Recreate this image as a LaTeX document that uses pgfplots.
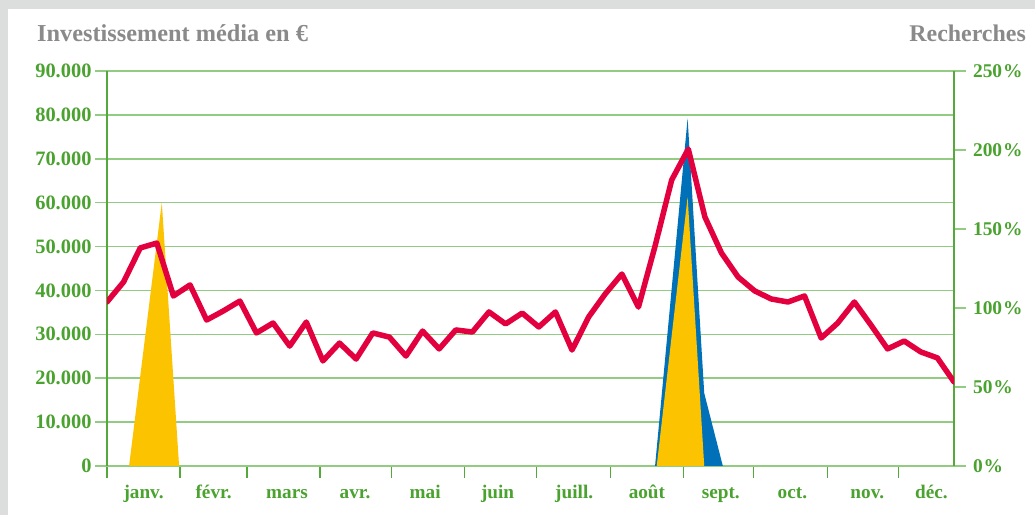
\documentclass[border=0pt]{standalone}
\usepackage{pgfplots}
\pgfplotsset{compat=1.18}
\usepackage{fontspec}
\setmainfont{Liberation Serif}
\definecolor{bggray}{HTML}{DCDEDD}
\definecolor{gridgreen}{HTML}{92CC82}
\definecolor{axisgreen}{HTML}{55A83A}
\definecolor{labgreen}{HTML}{4AA22F}
\definecolor{titlegray}{HTML}{8A8A8A}
\definecolor{redline}{HTML}{E3003F}
\definecolor{yellowarea}{HTML}{FCC300}
\definecolor{bluearea}{HTML}{0071B8}
\begin{document}
\begin{tikzpicture}[x=1bp,y=1bp]
\fill[bggray] (0,0) rectangle (1035,515);
\fill[white] (8,0) rectangle (1035,506);
\node[anchor=base west, font=\bfseries\fontsize{24.4}{28}\selectfont, text=titlegray, inner sep=0pt] at (37,473) {Investissement média en €};
\node[anchor=base east, font=\bfseries\fontsize{24}{28}\selectfont, text=titlegray, inner sep=0pt] at (1026,473) {Recherches};
\begin{axis}[
  at={(107bp,49bp)}, anchor=south west,
  scale only axis, width=847bp, height=395bp,
  xmin=0, xmax=51, ymin=0, ymax=90000,
  axis lines*=left,
  x axis line style={draw=gridgreen, line width=1.5bp},
  y axis line style={draw=axisgreen, line width=1.2bp},
  ytick={0,10000,20000,30000,40000,50000,60000,70000,80000,90000},
  yticklabels={0,10.000,20.000,30.000,40.000,50.000,60.000,70.000,80.000,90.000},
  scaled y ticks=false,
  ymajorgrids, grid style={gridgreen, line width=1.5bp},
  tick align=outside, major tick length=12bp,
  ytick style={draw=gridgreen, line width=1.5bp},
  xtick={0,4.40,8.43,12.83,17.11,21.51,25.84,30.30,34.70,38.92,43.37,47.65},
  xticklabels={},
  xtick style={draw=axisgreen, line width=1.2bp},
  extra x ticks={2.2,6.42,10.84,14.94,19.16,23.52,28.13,32.51,36.96,41.27,45.78,49.64},
  extra x tick labels={janv.,févr.,mars,avr.,mai,juin,juill.,août,sept.,oct.,nov.,déc.},
  extra x tick style={major tick length=0pt, xtick style={draw=none},
    xticklabel style={anchor=base, yshift=-32.5bp, font=\bfseries\fontsize{19.3}{22}\selectfont}},
  tick label style={font=\bfseries\fontsize{20.5}{23}\selectfont, text=labgreen},
]
\addplot[draw=none, fill=bluearea] coordinates {(33.0,0) (34.96,79200) (35.96,16600) (37.08,0)} -- cycle;
\addplot[draw=none, fill=yellowarea] coordinates {(33.1,0) (34.96,61300) (35.96,0)} -- cycle;
\addplot[draw=none, fill=yellowarea] coordinates {(1.33,0) (3.3,60000) (4.34,0)} -- cycle;
\end{axis}
\begin{axis}[
  at={(107bp,49bp)}, anchor=south west,
  scale only axis, width=847bp, height=395bp,
  xmin=0, xmax=51, ymin=0, ymax=250,
  axis y line*=right, axis x line=none,
  y axis line style={draw=axisgreen, line width=1.2bp},
  ytick={0,50,100,150,200,250},
  yticklabels={0\kern1bp\%,50\kern1bp\%,100\kern1bp\%,150\kern1bp\%,200\kern1bp\%,250\kern1bp\%},
  tick align=outside, major tick length=12bp,
  ytick style={draw=gridgreen, line width=1.5bp},
  yticklabel style={xshift=3.5bp},
  tick label style={font=\bfseries\fontsize{19.5}{22}\selectfont, text=labgreen},
]
\addplot[redline, line width=5.5bp, line join=round, line cap=round] coordinates {
(0,103.8) (1,116.5) (2,138.0) (3,141.1) (4,107.6) (5,114.6) (6,92.4) (7,98.1)
(8,104.4) (9,84.2) (10,90.5) (11,75.9) (12,91.1) (13,66.5) (14,77.8) (15,67.7)
(16,84.2) (17,81.6) (18,69.6) (19,85.4) (20,74.1) (21,86.1) (22,84.8) (23,97.5)
(24,89.9) (25,96.8) (26,88.0) (27,97.5) (28,73.4) (29,94.3) (30,108.9) (31,121.5)
(32,100.6) (33,139.2) (34,181.0) (35,200.6) (36,157.6) (37,134.8) (38,119.6) (39,110.8)
(40,105.7) (41,103.8) (42,107.6) (43,81.0) (44,90.5) (45,103.8) (46,89.2) (47,74.1)
(48,79.1) (49,72.2) (50,68.4) (51,53.2)
};
\end{axis}
\end{tikzpicture}
\end{document}
